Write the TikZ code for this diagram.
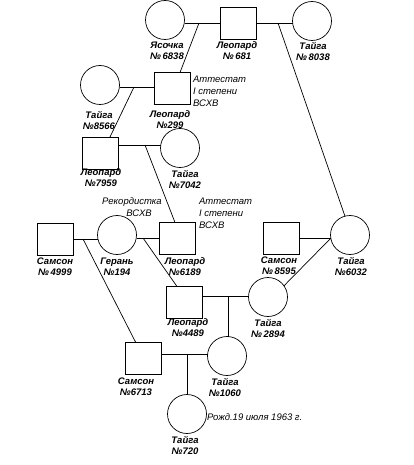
\documentclass[tikz,border=0pt]{standalone}
\usepackage{fontspec}
\setmainfont{Liberation Sans}
\begin{document}
\begin{tikzpicture}[x=1pt,y=-1pt,
  every node/.style={inner sep=0pt, outer sep=0pt},
  circ/.style={draw, circle, minimum size=39pt, line width=0.7pt},
  sq/.style={draw, rectangle, minimum width=36pt, minimum height=32pt, line width=0.7pt},
  lbl/.style={font=\fontsize{9.5}{11}\selectfont\bfseries\itshape, align=center},
  note/.style={font=\fontsize{9.5}{11.8}\selectfont\itshape, align=left, anchor=west},
  ln/.style={line width=0.7pt}]
\useasboundingbox (0,0) rectangle (414,465);
% shapes
\node[circ] (Y) at (165,20) {};
\node[sq] (L681) at (238,23.5) {};
\node[circ] (T8038) at (312,21) {};
\node[circ] (T8566) at (100,85) {};
\node[sq] (L299) at (172,88.5) {};
\node[sq] (L7959) at (100,153) {};
\node[circ] (T7042) at (180,148) {};
\node[sq] (S4999) at (55,239) {};
\node[circ] (G194) at (117,235) {};
\node[sq] (L6189) at (177.5,238.5) {};
\node[sq] (S8595) at (281.5,238) {};
\node[circ] (T6032) at (350,235) {};
\node[sq] (L4489) at (184,302.5) {};
\node[circ] (T2894) at (268,297) {};
\node[sq] (S6713) at (143.5,358) {};
\node[circ] (T1060) at (227,356) {};
\node[circ] (T720) at (187,414) {};
% labels
\node[lbl] (lY) at (167,51) {Ясочка\\№\,6838};
\node[lbl] (lL681) at (237,51) {Леопард\\№\,681};
\node[lbl] (lT8038) at (313,51) {Тайга\\№\,8038};
\node[lbl] (lT8566) at (99,120) {Тайга\\№8566};
\node[lbl] (lL299) at (170,120) {Леопард\\№299};
\node[note] (n299) at (193,91.5) {Аттестат\\I степени\\ВСХВ};
\node[lbl] (lL7959) at (101,178) {Леопард\\№7959};
\node[lbl] (lT7042) at (185,179) {Тайга\\№7042};
\node[note, anchor=center, align=center] (n194) at (132,207) {Рекордистка\\\hspace*{14pt}ВСХВ};
\node[note] (n6189) at (199,213.5) {Аттестат\\I степени\\ВСХВ};
\node[lbl] (lS4999) at (55,267) {Самсон\\№\,4999};
\node[lbl] (lG194) at (117,267) {Герань\\№194};
\node[lbl] (lL6189) at (185,267) {Леопард\\№6189};
\node[lbl] (lS8595) at (279,266) {Самсон\\№\,8595};
\node[lbl] (lT6032) at (351,266) {Тайга\\№6032};
\node[lbl] (lL4489) at (188,328) {Леопард\\№4489};
\node[lbl] (lT2894) at (268,328) {Тайга\\№\,2894};
\node[lbl] (lS6713) at (136,387) {Самсон\\№6713};
\node[lbl] (lT1060) at (225,387) {Тайга\\№1060};
\node[lbl] (lT720) at (185,445) {Тайга\\№720};
\node[note] (n720) at (207,417) {Рожд.19 июля 1963 г.};
% marriage points
\coordinate (m1) at (199,23);
\coordinate (m2) at (278,23);
\coordinate (m3) at (134,87);
\coordinate (m4) at (145,145);
\coordinate (m5) at (83,239);
\coordinate (m6) at (143,238);
\coordinate (m7) at (331,238);
\coordinate (m8) at (228,296);
\coordinate (m9) at (187,354);
% marriage lines
\draw[ln] (m1 -| Y.east) -- (m1 -| L681.west);
\draw[ln] (m2 -| L681.east) -- (m2 -| T8038.west);
\draw[ln] (m3 -| T8566.east) -- (m3 -| L299.west);
\draw[ln] (m4 -| L7959.east) -- (m4 -| T7042.west);
\draw[ln] (m5 -| S4999.east) -- (m5 -| G194.west);
\draw[ln] (m6 -| G194.east) -- (m6 -| L6189.west);
\draw[ln] (m7 -| S8595.east) -- (m7 -| T6032.west);
\draw[ln] (m8 -| L4489.east) -- (m8 -| T2894.west);
\draw[ln] (m9 -| S6713.east) -- (m9 -| T1060.west);
% descent lines
\draw[ln] (m1) -- ([xshift=8pt]L299.north);
\draw[ln] (m2) -- (T6032.105);
\draw[ln] (m3) -- ([xshift=10pt]L7959.north);
\draw[ln] (m4) -- ([xshift=-2.5pt]L6189.north);
\draw[ln] (m5) -- ([xshift=-8pt]S6713.north);
\draw[ln] (m6) -- ([xshift=-7pt]L4489.north);
\draw[ln] (m7) -- (T2894.35);
\draw[ln] (m8) -- (m8 |- T1060.north);
\draw[ln] (m9) -- (T720.north);
\end{tikzpicture}
\end{document}
